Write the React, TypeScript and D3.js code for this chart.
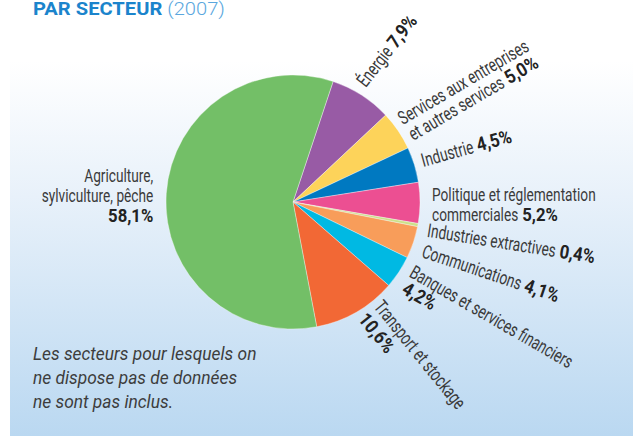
import React, { useEffect, useRef } from 'react';
import * as d3 from 'd3';

// Sectors in clockwise order, starting after the big green slice
const sectors = [
  'Énergie',
  'Services aux entreprises et autres services',
  'Industrie',
  'Politique et réglementation commerciales',
  'Industries extractives',
  'Communications',
  'Banques et services financiers',
  'Transport et stockage',
  'Agriculture, sylviculture, pêche',
];
const shares = [7.9, 5.0, 4.5, 5.2, 0.4, 4.1, 4.2, 10.6, 58.1];
const shareLabels = ['7,9%', '5,0%', '4,5%', '5,2%', '0,4%', '4,1%', '4,2%', '10,6%', '58,1%'];
const sliceColors = [
  '#985ba5', '#fdd35a', '#0079c1', '#ec4f92', '#cde08a',
  '#f89d5a', '#00b9e3', '#f26835', '#73bf67',
];
// label text broken into lines, {v} is where the bold share goes
const labelLines = [
  ['Énergie {v}'],
  ['Services aux entreprises', 'et autres services {v}'],
  ['Industrie {v}'],
  ['Politique et réglementation', 'commerciales {v}'],
  ['Industries extractives {v}'],
  ['Communications {v}'],
  ['Banques et services financiers', '{v}'],
  ['Transport et stockage', '{v}'],
  ['Agriculture,', 'sylviculture, pêche', '{v}'],
];
const title = 'PAR SECTEUR';
const titleYear = '(2007)';
const footnote = [
  'Les secteurs pour lesquels on',
  'ne dispose pas de données',
  'ne sont pas inclus.',
];

// label placement: angle offset from slice middle, distance from centre, rotation, line offsets
const labelLayout = [
  { dAngle: 0, dist: 135, rotate: -52, anchor: 'start', lines: [[0, 0]] },
  { dAngle: -0.8, dist: 134, rotate: -30.5, anchor: 'start', lines: [[0, 0], [1, 19]] },
  { dAngle: 2, dist: 135, rotate: -15.5, anchor: 'start', lines: [[0, 0]] },
  { dAngle: -0.8, dist: 139, rotate: 0, anchor: 'start', lines: [[0, 0], [0, 20]] },
  { dAngle: 4.1, dist: 138, rotate: 9, anchor: 'start', lines: [[0, 0]] },
  { dAngle: 4.7, dist: 139, rotate: 18.5, anchor: 'start', lines: [[0, 0]] },
  { dAngle: -0.7, dist: 137, rotate: 30, anchor: 'start', lines: [[0, 0], [2, 18]] },
  { dAngle: -7.5, dist: 132, rotate: 51, anchor: 'start', lines: [[0, 0], [0, 20]] },
  { dAngle: 0, dist: 140, rotate: 0, anchor: 'end', lines: [[0, -11], [0, 9], [0, 29]] },
];

const App: React.FC = () => {
  const svgRef = useRef<SVGSVGElement>(null);

  useEffect(() => {
    const svg = d3.select(svgRef.current);
    svg.selectAll('*').remove();

    const width = 633;
    const height = 436;
    const cx = 293;
    const cy = 202;
    const radius = 127;
    const startDeg = 18.4;
    const labelFont = 'Roboto, "Liberation Sans", sans-serif';
    const squeeze = 0.72; // condensed look for the sector names
    const boldSqueeze = 0.88; // shares are set a bit wider

    svg.attr('width', width).attr('height', height);

    // background panel with soft blue gradient
    const defs = svg.append('defs');
    const grad = defs
      .append('linearGradient')
      .attr('id', 'bg')
      .attr('x1', 0)
      .attr('y1', 0)
      .attr('x2', 0)
      .attr('y2', 1);
    grad.append('stop').attr('offset', '0.14').attr('stop-color', '#ffffff');
    grad.append('stop').attr('offset', '0.45').attr('stop-color', '#e8f1fa');
    grad.append('stop').attr('offset', '1').attr('stop-color', '#bad8f1');

    svg.append('rect').attr('width', width).attr('height', height).attr('fill', '#fff');
    svg
      .append('rect')
      .attr('x', 10)
      .attr('y', 0)
      .attr('width', width - 10)
      .attr('height', height)
      .attr('fill', 'url(#bg)');

    // title
    const t = svg
      .append('text')
      .attr('transform', 'translate(33, 15) scale(1.06, 1)')
      .style('font-family', labelFont)
      .style('font-size', '19px');
    t.append('tspan').attr('fill', '#1b84cc').style('font-weight', 700).text(title);
    t.append('tspan').attr('fill', '#5aa7de').style('font-weight', 300).text(' ' + titleYear);

    // pie
    const pie = d3
      .pie<number>()
      .sort(null)
      .value((d) => d)
      .startAngle((startDeg * Math.PI) / 180)
      .endAngle((startDeg * Math.PI) / 180 + 2 * Math.PI);
    const arcs = pie(shares);
    const arc = d3.arc<d3.PieArcDatum<number>>().innerRadius(0).outerRadius(radius);

    const g = svg.append('g').attr('transform', `translate(${cx}, ${cy})`);
    g.selectAll('path')
      .data(arcs)
      .enter()
      .append('path')
      .attr('d', arc)
      .attr('fill', (_, i) => sliceColors[i])
      .attr('stroke', '#ffffff')
      .attr('stroke-width', 0.5)
      .attr('stroke-opacity', 0.7);

    // labels
    arcs.forEach((a, i) => {
      const lay = labelLayout[i];
      const ang = (a.startAngle + a.endAngle) / 2 + (lay.dAngle * Math.PI) / 180;
      const x = cx + lay.dist * Math.sin(ang);
      const y = cy - lay.dist * Math.cos(ang);
      const lg = svg
        .append('g')
        .attr('transform', `translate(${x}, ${y}) rotate(${lay.rotate})`);

      labelLines[i].forEach((line, j) => {
        const [dx, dy] = lay.lines[j];
        const parts = line.split('{v}');
        const name = parts[0].trim();
        let offset = 0;
        if (name) {
          const nameText = lg
            .append('text')
            .attr('transform', `translate(${dx}, ${dy}) scale(${squeeze}, 1)`)
            .attr('text-anchor', lay.anchor)
            .style('font-family', labelFont)
            .style('font-size', '19px')
            .attr('fill', '#3a3a3a')
            .text(name);
          const node = nameText.node() as SVGTextElement;
          offset = node.getComputedTextLength() * squeeze + 4;
        }
        if (parts.length > 1) {
          lg.append('text')
            .attr('transform', `translate(${dx + offset}, ${dy}) scale(${boldSqueeze}, 1)`)
            .attr('text-anchor', lay.anchor)
            .style('font-family', labelFont)
            .style('font-size', '19px')
            .style('font-weight', 700)
            .attr('fill', '#222')
            .text(shareLabels[i]);
        }
      });
    });

    // footnote
    svg
      .append('text')
      .attr('transform', 'translate(33, 360) scale(0.965, 1)')
      .style('font-family', labelFont)
      .style('font-size', '18px')
      .style('font-style', 'italic')
      .attr('fill', '#3d3d3d')
      .selectAll('tspan')
      .data(footnote)
      .enter()
      .append('tspan')
      .attr('x', 0)
      .attr('dy', (_, i) => (i === 0 ? 0 : 24))
      .text((d) => d);

    svg.append('title').text(sectors.join(', '));
  }, []);

  return (
    <div style={{ position: 'fixed', left: 0, top: 0, width: 633, height: 436 }}>
      <svg ref={svgRef} style={{ display: 'block' }}></svg>
    </div>
  );
};

export default App;
